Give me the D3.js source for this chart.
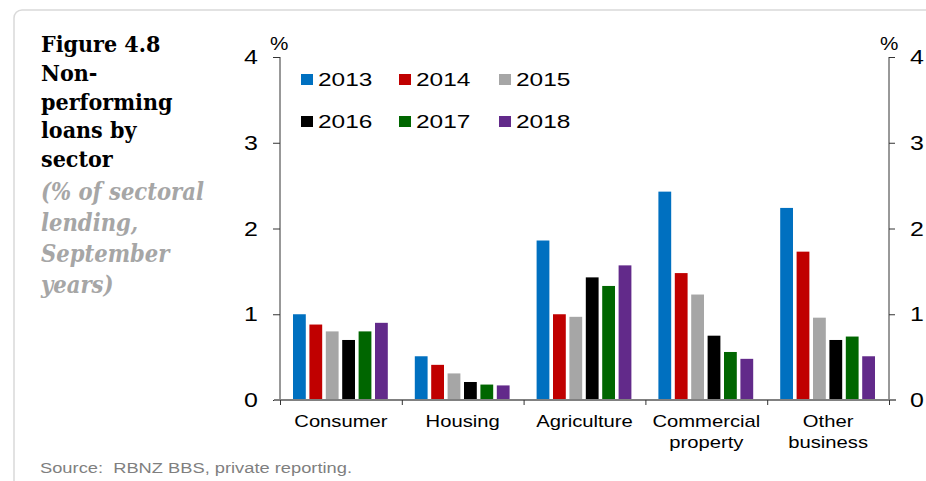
<!DOCTYPE html>
<html><head><meta charset="utf-8">
<script src="https://cdn.jsdelivr.net/npm/d3@7"></script>
<style>body{margin:0;background:#fff;}svg{display:block;}</style>
</head><body>
<svg id="chart" width="926" height="481"></svg>
<script>
const categories = [["Consumer"],["Housing"],["Agriculture"],["Commercial","property"],["Other","business"]];
const years = ["2013","2014","2015","2016","2017","2018"];
const colors = ["#0070C0","#C00000","#A6A6A6","#000000","#006600","#622A8A"];
const v2013 = [1.00, 0.51, 1.86, 2.43, 2.24];
const v2014 = [0.88, 0.41, 1.00, 1.48, 1.73];
const v2015 = [0.80, 0.31, 0.97, 1.23, 0.96];
const v2016 = [0.70, 0.21, 1.43, 0.75, 0.70];
const v2017 = [0.80, 0.18, 1.33, 0.56, 0.74];
const v2018 = [0.90, 0.17, 1.57, 0.48, 0.51];
const series = [v2013, v2014, v2015, v2016, v2017, v2018];
const yTicks = [0,1,2,3,4];
const titleLines = ["Figure 4.8","Non-","performing","loans by","sector"];
const subLines = ["(% of sectoral","lending,","September","years)"];
const sourceText = "Source:  RBNZ BBS, private reporting.";

const SANS = "'Liberation Sans', Arial, sans-serif";
const svg = d3.select("#chart");
const L = 280, R = 889, T = 57, B = 400;

// helper: horizontally stretched text
function stext(parent, x, y, str, size, sx, anchor, fill) {
  const g = parent.append("g").attr("transform", `translate(${x},${y}) scale(${sx},1)`);
  return g.append("text").attr("x",0).attr("y",0).attr("font-family",SANS).attr("font-size",size)
    .attr("fill",fill||"#000").attr("text-anchor",anchor||"start").style("white-space","pre").text(str);
}

// frame
svg.append("rect").attr("x",14).attr("y",10).attr("width",940).attr("height",500)
  .attr("rx",8).attr("fill","none").attr("stroke","#d9d9d9").attr("stroke-width",1.5);

// title
const tt = svg.append("text").attr("font-family","'DejaVu Serif Condensed', 'DejaVu Serif', serif").attr("font-weight","bold")
  .attr("font-stretch","condensed").attr("font-size",23).attr("fill","#000");
titleLines.forEach((s,i)=>tt.append("tspan").attr("x",41).attr("y",52+i*28.8).text(s));
const st = svg.append("text").attr("font-family","'DejaVu Serif Condensed', 'DejaVu Serif', serif").attr("font-weight","bold")
  .attr("font-stretch","condensed").attr("font-style","italic").attr("font-size",23.5).attr("fill","#A6A6A6");
subLines.forEach((s,i)=>st.append("tspan").attr("x",41).attr("y",200+i*31).text(s));

const y = d3.scaleLinear().domain([0,4]).range([B,T]);
const x0 = d3.scaleBand().domain(categories.map((c,i)=>i)).range([L,R]).paddingInner(0).paddingOuter(0);
const x1 = d3.scaleBand().domain(years).range([13, x0.bandwidth()-14]).paddingInner(0.22).paddingOuter(0);

// bars
years.forEach((yr,si)=>{
  svg.append("g").selectAll("rect").data(series[si]).join("rect")
    .attr("x",(d,i)=>x0(i)+x1(yr))
    .attr("y",d=>y(d))
    .attr("width",x1.bandwidth())
    .attr("height",d=>B-y(d))
    .attr("fill",colors[si]);
});

// axes (lines and ticks via d3 axes; labels stretched)
const axL = d3.axisLeft(y).tickValues(yTicks).tickSize(7).tickFormat("");
const axR = d3.axisRight(y).tickValues(yTicks).tickSize(6).tickFormat("");
const gL = svg.append("g").attr("transform",`translate(${L},0)`).call(axL);
const gR = svg.append("g").attr("transform",`translate(${R},0)`).call(axR);
[gL,gR].forEach(g=>{
  g.select(".domain").attr("stroke","#333").attr("d",`M0,${T}V${B}`);
  g.selectAll(".tick line").attr("stroke","#333");
});
yTicks.forEach(t=>{
  stext(svg, 258, y(t)+7, String(t), 19.5, 1.28, "end");
  stext(svg, 910, y(t)+7, String(t), 19.5, 1.28, "start");
});
stext(svg, 270, 50, "%", 18, 1.15, "start");
stext(svg, 880, 50, "%", 18, 1.15, "start");

// x axis
const xb = d3.scaleLinear().domain([0,categories.length]).range([L,R]);
const gX = svg.append("g").attr("transform",`translate(0,${B})`)
  .call(d3.axisBottom(xb).tickValues(d3.range(categories.length+1)).tickSize(5).tickFormat(""));
gX.select(".domain").attr("stroke","#808080").attr("stroke-width",2).attr("d",`M${L-6},0H${R+7}`);
gX.selectAll(".tick line").attr("stroke","#333");
categories.forEach((c,i)=>{
  c.forEach((s,j)=>stext(svg, x0(i)+x0.bandwidth()/2, 427+j*20.5, s, 17, 1.19, "middle"));
});

// legend
const legX = [301,399,499], legY = [79,121];
years.forEach((yr,i)=>{
  const lx = legX[i%3], ly = legY[Math.floor(i/3)];
  svg.append("rect").attr("x",lx).attr("y",ly-5).attr("width",12).attr("height",11).attr("fill",colors[i]);
  stext(svg, lx+17, ly+7, yr, 18.8, 1.3, "start");
});

stext(svg, 40, 473, sourceText, 15, 1.22, "start", "#7f7f7f");
</script>
</body></html>
